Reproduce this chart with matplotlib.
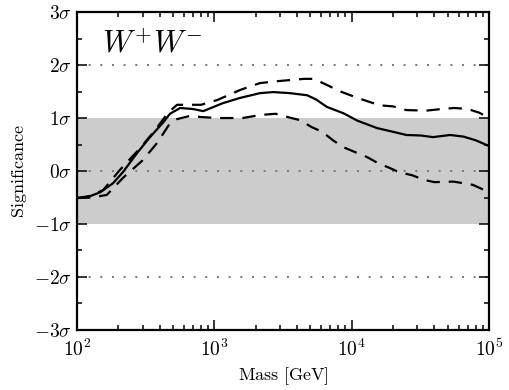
import matplotlib
matplotlib.use('Agg')
import matplotlib.pyplot as plt
import numpy as np

plt.rcParams['mathtext.fontset'] = 'cm'
plt.rcParams['font.family'] = 'serif'

# central significance curve
mass_mid = [100, 120, 148, 183, 216, 274, 340, 425, 475, 563, 700, 830, 1150, 1540, 2150, 2680,
            3550, 4740, 5500, 6600, 8700, 11000, 15300, 20000, 25000, 32000, 39000, 52000, 65000, 80000, 100000]
sig_mid = [-0.51, -0.49, -0.40, -0.23, -0.02, 0.34, 0.64, 0.92, 1.08, 1.19, 1.17, 1.13, 1.28, 1.38, 1.47, 1.49,
           1.47, 1.43, 1.35, 1.21, 1.09, 0.95, 0.81, 0.74, 0.68, 0.67, 0.64, 0.68, 0.65, 0.58, 0.47]

# upper dashed curve
mass_up = [100, 125, 155, 205, 288, 370, 460, 535, 665, 800, 1050, 1540, 2150, 3000, 4500, 5300,
           6900, 8300, 11000, 16000, 20000, 25000, 35000, 45000, 56000, 70000, 85000, 100000]
sig_up = [-0.51, -0.47, -0.36, 0.02, 0.43, 0.77, 1.10, 1.25, 1.25, 1.25, 1.34, 1.53, 1.66, 1.70, 1.74, 1.74,
          1.60, 1.50, 1.38, 1.24, 1.22, 1.15, 1.14, 1.17, 1.19, 1.17, 1.10, 1.00]

# lower dashed curve
mass_lo = [100, 130, 165, 216, 300, 383, 475, 535, 665, 790, 1050, 1600, 2200, 2800, 3400, 4200,
           5100, 6100, 7300, 8700, 10500, 13000, 15500, 18800, 22000, 27500, 34000, 40000, 55000, 76000, 100000]
sig_lo = [-0.51, -0.50, -0.45, -0.13, 0.20, 0.53, 0.90, 0.98, 1.04, 1.02, 1.00, 1.00, 1.06, 1.08, 1.02, 0.96,
          0.83, 0.74, 0.58, 0.45, 0.36, 0.26, 0.15, 0.06, -0.02, -0.08, -0.17, -0.21, -0.20, -0.26, -0.40]

yticks = [-3, -2, -1, 0, 1, 2, 3]
ytick_labels = [r'$-3\sigma$', r'$-2\sigma$', r'$-1\sigma$', r'$0\sigma$', r'$1\sigma$', r'$2\sigma$', r'$3\sigma$']
xticks = [1e2, 1e3, 1e4, 1e5]
xtick_labels = [r'$10^{2}$', r'$10^{3}$', r'$10^{4}$', r'$10^{5}$']

fig = plt.figure(figsize=(5.1, 3.9), dpi=100)
ax = fig.add_axes([0.151, 0.154, 0.808, 0.815])

ax.axhspan(-1, 1, color='#cccccc', lw=0, zorder=0)
for yv in [-2, 0, 2]:
    ax.axhline(yv, color='#777777', lw=1.4, ls=(0, (1, 5)), zorder=1)

ax.plot(mass_mid, sig_mid, color='black', lw=1.6, zorder=3)
ax.plot(mass_up, sig_up, color='black', lw=1.6, ls=(0, (6, 4)), zorder=3)
ax.plot(mass_lo, sig_lo, color='black', lw=1.6, ls=(0, (6, 4)), zorder=3)

ax.set_xscale('log')
ax.set_xlim(1e2, 1e5)
ax.set_ylim(-3, 3)
ax.set_xticks(xticks)
ax.set_xticklabels(xtick_labels, fontsize=14)
ax.set_yticks(yticks)
ax.set_yticklabels(ytick_labels, fontsize=14)
ax.set_yticks(np.arange(-2.5, 3, 1.0), minor=True)
ax.tick_params(which='both', direction='in', top=True, right=True, width=1.1)
ax.tick_params(which='major', length=7)
ax.tick_params(which='minor', length=3.5)
ax.tick_params(axis='x', pad=6)
for sp in ax.spines.values():
    sp.set_linewidth(1.6)

ax.set_xlabel(r'$\mathrm{Mass\ [GeV]}$', fontsize=13)
ax.set_ylabel(r'$\mathrm{Significance}$', fontsize=13)
ax.text(0.06, 0.90, r'$W^{+}W^{-}$', transform=ax.transAxes, fontsize=22, va='center')

fig.savefig('out.png', dpi=100)
